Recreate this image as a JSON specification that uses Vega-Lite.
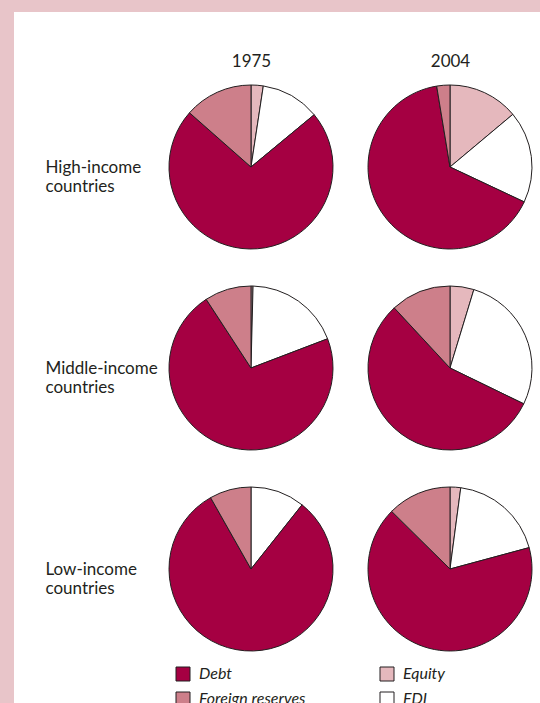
{
  "$schema": "https://vega.github.io/schema/vega-lite/v6.json",
  "width": 526,
  "height": 691,
  "autosize": {"type": "none"},
  "padding": {"left": 14, "top": 12, "right": 0, "bottom": 0},
  "background": "#e8c5c9",
  "config": {"view": {"fill": "#ffffff", "stroke": null}, "font": "Lato"},
  "data": {
    "values": [
      {"group": "High-income countries", "year": 1975, "component": "Equity", "order": 1, "value": 2.4},
      {"group": "High-income countries", "year": 1975, "component": "FDI", "order": 2, "value": 11.6},
      {"group": "High-income countries", "year": 1975, "component": "Debt", "order": 3, "value": 72.5},
      {"group": "High-income countries", "year": 1975, "component": "Foreign reserves", "order": 4, "value": 13.5},
      {"group": "High-income countries", "year": 2004, "component": "Equity", "order": 1, "value": 13.9},
      {"group": "High-income countries", "year": 2004, "component": "FDI", "order": 2, "value": 18.1},
      {"group": "High-income countries", "year": 2004, "component": "Debt", "order": 3, "value": 65.4},
      {"group": "High-income countries", "year": 2004, "component": "Foreign reserves", "order": 4, "value": 2.6},
      {"group": "Middle-income countries", "year": 1975, "component": "Equity", "order": 1, "value": 0.4},
      {"group": "Middle-income countries", "year": 1975, "component": "FDI", "order": 2, "value": 18.8},
      {"group": "Middle-income countries", "year": 1975, "component": "Debt", "order": 3, "value": 71.6},
      {"group": "Middle-income countries", "year": 1975, "component": "Foreign reserves", "order": 4, "value": 9.2},
      {"group": "Middle-income countries", "year": 2004, "component": "Equity", "order": 1, "value": 4.7},
      {"group": "Middle-income countries", "year": 2004, "component": "FDI", "order": 2, "value": 27.5},
      {"group": "Middle-income countries", "year": 2004, "component": "Debt", "order": 3, "value": 55.9},
      {"group": "Middle-income countries", "year": 2004, "component": "Foreign reserves", "order": 4, "value": 11.9},
      {"group": "Low-income countries", "year": 1975, "component": "Equity", "order": 1, "value": 0},
      {"group": "Low-income countries", "year": 1975, "component": "FDI", "order": 2, "value": 10.7},
      {"group": "Low-income countries", "year": 1975, "component": "Debt", "order": 3, "value": 81.1},
      {"group": "Low-income countries", "year": 1975, "component": "Foreign reserves", "order": 4, "value": 8.2},
      {"group": "Low-income countries", "year": 2004, "component": "Equity", "order": 1, "value": 2.1},
      {"group": "Low-income countries", "year": 2004, "component": "FDI", "order": 2, "value": 18.7},
      {"group": "Low-income countries", "year": 2004, "component": "Debt", "order": 3, "value": 66.6},
      {"group": "Low-income countries", "year": 2004, "component": "Foreign reserves", "order": 4, "value": 12.6}
    ]
  },
  "transform": [
    {"stack": "value", "groupby": ["group", "year"], "sort": [{"field": "order"}], "as": ["start", "end"]}
  ],
  "mark": {"type": "arc", "radius": 82, "stroke": "#231f20", "strokeWidth": 1},
  "encoding": {
    "x": {
      "field": "year",
      "type": "quantitative",
      "stack": null,
      "scale": {"domain": [1975, 2004], "range": [237, 436], "zero": false, "nice": false},
      "axis": {
        "orient": "top",
        "offset": -54,
        "title": null,
        "values": [1975, 2004],
        "format": "d",
        "ticks": false,
        "tickSize": 0,
        "domain": false,
        "grid": false,
        "labelPadding": 0,
        "labelBaseline": "alphabetic",
        "labelAlign": "center",
        "labelFlush": false,
        "labelOverlap": false,
        "labelFont": "Lato",
        "labelFontSize": 17,
        "labelColor": "#231f20"
      }
    },
    "y": {
      "field": "group",
      "type": "nominal",
      "scale": {
        "type": "point",
        "domain": ["High-income countries", "Middle-income countries", "Low-income countries"],
        "range": [155, 557],
        "padding": 0
      },
      "axis": {
        "orient": "left",
        "offset": -31,
        "title": null,
        "ticks": false,
        "tickSize": 0,
        "domain": false,
        "grid": false,
        "labelPadding": 0,
        "labelAlign": "left",
        "labelBaseline": "middle",
        "labelExpr": "split(datum.label, ' ')",
        "labelLineHeight": 19.5,
        "labelLimit": 0,
        "labelOverlap": false,
        "labelFont": "Lato",
        "labelFontSize": 17,
        "labelColor": "#231f20"
      }
    },
    "theta": {"field": "start", "type": "quantitative", "stack": null, "scale": {"domain": [0, 100]}},
    "theta2": {"field": "end"},
    "color": {
      "field": "component",
      "type": "nominal",
      "scale": {
        "domain": ["Debt", "Foreign reserves", "Equity", "FDI"],
        "range": ["#a50042", "#cd7f8a", "#e5b8bd", "#ffffff"]
      },
      "legend": {
        "title": null,
        "orient": "none",
        "legendX": 161,
        "legendY": 654,
        "columns": 2,
        "columnPadding": 72,
        "rowPadding": 7,
        "padding": 0,
        "symbolType": "square",
        "symbolSize": 196,
        "symbolStrokeColor": "#231f20",
        "symbolStrokeWidth": 1,
        "labelFont": "Lato",
        "labelFontSize": 16,
        "labelFontStyle": "italic",
        "labelColor": "#231f20",
        "labelOffset": 8
      }
    }
  }
}
